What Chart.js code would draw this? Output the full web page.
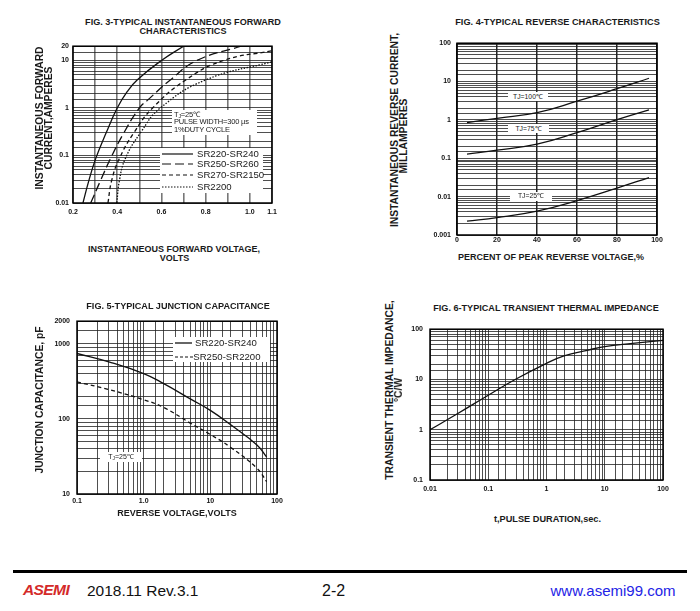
<!DOCTYPE html>
<html><head><meta charset="utf-8">
<script src="https://cdn.jsdelivr.net/npm/chart.js@4.4.0/dist/chart.umd.min.js"></script>
<style>
html,body{margin:0;padding:0;background:#fff;}
#page{position:relative;width:700px;height:611px;overflow:hidden;font-family:"Liberation Sans",Arial,sans-serif;color:#1a1a1a;}
.t{position:absolute;white-space:nowrap;transform:translate(-50%,-50%);line-height:1;}
.l{position:absolute;white-space:nowrap;transform:translate(0,-50%);line-height:1;}
.r{position:absolute;white-space:nowrap;transform:translate(-50%,-50%) rotate(-90deg);line-height:1;}
.b{font-weight:bold;}
canvas{position:absolute;}
.box{position:absolute;background:#fff;}
sub{font-size:70%;vertical-align:-1px;}
</style></head>
<body><div id="page"></div>
<script>
// ---------- DATA ----------
// Fig 3: forward characteristics (V, A)
const fig3Names = ['SR220-SR240','SR250-SR260','SR270-SR2150','SR2200'];
const fig3V1 = [0.245,0.272,0.303,0.35,0.40,0.445,0.49,0.60,0.70];
const fig3I1 = [0.01,0.03,0.087,0.3,1,2.2,3.9,10,20];
const fig3V2 = [0.28,0.325,0.37,0.43,0.50,0.54,0.64,0.76,0.96];
const fig3I2 = [0.01,0.03,0.087,0.3,1,1.5,3.9,10,20];
const fig3V3 = [0.358,0.375,0.41,0.475,0.56,0.71,0.88,1.1];
const fig3I3 = [0.01,0.03,0.087,0.3,1,3.9,10,16];
const fig3V4 = [0.398,0.41,0.437,0.505,0.595,0.80,1.1];
const fig3I4 = [0.01,0.03,0.087,0.3,1,3.9,9.4];
const fig3XLabels = ['0.2','0.4','0.6','0.8','1.0','1.1'];
const fig3YLabels = [0.01,0.1,1,10,20];

// Fig 4: reverse characteristics (% of PRV, mA)
const fig4Names = ['TJ=100℃','TJ=75℃','TJ=25℃'];
const fig4X = [5,20,40,60,80,96];
const fig4T100 = [0.85,1.1,1.54,3.07,6.5,12.2];
const fig4T75 = [0.129,0.163,0.233,0.465,1.02,1.84];
const fig4T25 = [0.0023,0.00284,0.0042,0.0079,0.0167,0.0313];
const fig4YLabels = [0.001,0.01,0.1,1,10,100];

// Fig 5: junction capacitance (V, pF)
const fig5Names = ['SR220-SR240','SR250-SR2200'];
const fig5X = [0.1,0.3,1,2,5,10,20,50,70];
const fig5A = [743,575,401,295,185,130,84,45,31];
const fig5B = [311,246,180,142,88,62,42,22,14.6];
const fig5XLabels = [0.1,1,10,100];
const fig5XText = ['0.1','1.0','10','100'];
const fig5YLabels = [10,100,1000,2000];

// Fig 6: transient thermal impedance (s, °C/W)
const fig6X = [0.01,0.03,0.1,0.3,1,2,5,10,30,100];
const fig6Y = [1,2.1,4.86,10.2,20.9,29.5,38,45,52,60];
const fig6XLabels = [0.01,0.1,1,10,100];
const fig6YLabels = [0.1,1,10,100];

// ---------- HELPERS ----------
const page = document.getElementById('page');
function txt(cls, x, y, size, html, extra) {
  const d = document.createElement('div');
  d.className = cls;
  d.style.left = x + 'px'; d.style.top = y + 'px'; d.style.fontSize = size + 'px';
  if (extra) Object.assign(d.style, extra);
  d.innerHTML = html;
  page.appendChild(d);
  return d;
}
function box(x, y, w, h) {
  const d = document.createElement('div');
  d.className = 'box';
  Object.assign(d.style, {left:x+'px', top:y+'px', width:w+'px', height:h+'px'});
  page.appendChild(d);
}
function sample(x1, x2, y, dash, width, color) {
  const ns = 'http://www.w3.org/2000/svg';
  const s = document.createElementNS(ns, 'svg');
  s.setAttribute('width', x2 - x1); s.setAttribute('height', 6);
  Object.assign(s.style, {position:'absolute', left:x1+'px', top:(y-3)+'px'});
  const ln = document.createElementNS(ns, 'line');
  ln.setAttribute('x1', 0); ln.setAttribute('x2', x2 - x1);
  ln.setAttribute('y1', 3); ln.setAttribute('y2', 3);
  ln.setAttribute('stroke', color || '#111');
  ln.setAttribute('stroke-width', width || 1.2);
  if (dash) ln.setAttribute('stroke-dasharray', dash);
  s.appendChild(ln);
  page.appendChild(s);
}
const pts = (xs, ys) => xs.map((x, i) => ({x, y: ys[i]}));
const near = (v, list) => list.find(t => Math.abs(v - t) <= t * 1e-6);
const fmt = v => (v < 1 ? String(+v.toPrecision(3)) : String(Math.round(v)));

const frame = {id:'frame', afterDraw(ch){
  const {ctx, chartArea:a} = ch;
  ctx.save(); ctx.strokeStyle = '#000'; ctx.lineWidth = 1.5;
  ctx.strokeRect(a.left, a.top, a.right - a.left, a.bottom - a.top);
  ctx.restore();
}};
const tickFont = {family:'Liberation Sans', size:7, weight:'bold'};

function makeChart(cfg) {
  const {l, t, w, h, yW, xH, padT, padR, xs, ys, datasets} = cfg;
  const c = document.createElement('canvas');
  const W = yW + w + padR, H = padT + h + xH;
  c.width = W; c.height = H;
  c.style.left = (l - yW) + 'px'; c.style.top = (t - padT) + 'px';
  c.style.width = W + 'px'; c.style.height = H + 'px';
  page.appendChild(c);
  xs.afterFit = s => { s.height = xH; };
  ys.afterFit = s => { s.width = yW; };
  new Chart(c, {
    type: 'line',
    data: {datasets},
    options: {
      responsive: false, animation: false, events: [],
      layout: {padding: {top: padT, right: padR, left: 0, bottom: 0}},
      plugins: {legend: {display: false}, tooltip: {enabled: false}, title: {display: false}},
      elements: {point: {radius: 0}},
      scales: {x: xs, y: ys}
    },
    plugins: [frame]
  });
}
function ds(label, data, dash, width) {
  return {label, data, borderColor: '#111', borderWidth: width || 1.3, borderDash: dash || [],
          fill: false, pointRadius: 0, tension: 0.45, cubicInterpolationMode: 'default'};
}
function logAxis(min, max, labels, texts, pad, gridColor, gridW) {
  return {type: 'logarithmic', min, max,
    border: {display: false},
    grid: {color: gridColor || '#222', lineWidth: gridW || 0.8, drawTicks: false},
    ticks: {autoSkip: false, padding: pad, font: tickFont, color: '#111', maxRotation: 0,
      callback: v => { const m = near(v, labels); if (m === undefined) return '';
        return texts ? texts[labels.indexOf(m)] : fmt(m); }}};
}

// ---------- FIG 3 ----------
makeChart({l:73, t:46, w:199, h:157, yW:30, xH:16, padT:8, padR:14,
  xs: {type:'linear', min:0.2, max:1.1, border:{display:false},
       grid:{color:'#777', lineWidth:1.6, drawTicks:false},
       ticks:{stepSize:0.1, autoSkip:false, padding:5, font:tickFont, color:'#111', maxRotation:0,
         callback: v => { const s = (Math.round(v*10)/10).toFixed(1); return fig3XLabels.includes(s) ? s : ''; }}},
  ys: logAxis(0.01, 20, fig3YLabels, null, 4, '#222', 0.8),
  datasets: [
    ds(fig3Names[0], pts(fig3V1, fig3I1), []),
    ds(fig3Names[1], pts(fig3V2, fig3I2), [9,4]),
    ds(fig3Names[2], pts(fig3V3, fig3I3), [4,3]),
    ds(fig3Names[3], pts(fig3V4, fig3I4), [1.5,1.5])
  ]});
txt('t b', 183, 22.7, 9.1, 'FIG. 3-TYPICAL INSTANTANEOUS FORWARD');
txt('t b', 183, 31.7, 9.1, 'CHARACTERISTICS');
txt('r b', 40, 117.5, 10.3, 'INSTANTANEOUS FORWARD');
txt('r b', 49, 117.5, 10.3, 'CURRENT,AMPERES');
txt('t b', 174, 249, 9, 'INSTANTANEOUS FORWARD VOLTAGE,');
txt('t b', 174.5, 258, 9, 'VOLTS');
box(172, 110, 85, 25);
txt('l', 174, 115, 7.5, 'T<sub>J</sub>=25℃', {letterSpacing:'-0.2px'});
txt('l', 174, 122.3, 7.5, 'PULSE WIDTH=300 µs', {letterSpacing:'-0.2px'});
txt('l', 174, 130, 7.5, '1%DUTY CYCLE', {letterSpacing:'-0.2px'});
box(160, 148, 103, 45);
const lg3y = [154.3, 164.3, 175, 186.7];
const lg3dash = [null, '9 4', '4 3', '1.5 1.5'];
fig3Names.forEach((n, i) => { sample(162, 193, lg3y[i], lg3dash[i], 1.2); txt('l', 197, lg3y[i], 9.6, n); });

// ---------- FIG 4 ----------
makeChart({l:457, t:41, w:200, h:194, yW:32, xH:14, padT:8, padR:14,
  xs: {type:'linear', min:0, max:100, border:{display:false},
       grid:{color:'#222', lineWidth:1.5, drawTicks:false},
       ticks:{stepSize:20, autoSkip:false, padding:1, font:tickFont, color:'#111', maxRotation:0}},
  ys: logAxis(0.001, 100, fig4YLabels, null, 6, '#222', 0.8),
  datasets: [
    ds(fig4Names[0], pts(fig4X, fig4T100)),
    ds(fig4Names[1], pts(fig4X, fig4T75)),
    ds(fig4Names[2], pts(fig4X, fig4T25))
  ]});
txt('t b', 557.5, 22.7, 9.2, 'FIG. 4-TYPICAL REVERSE CHARACTERISTICS');
txt('r b', 395, 130, 10.3, 'INSTANTANEOUS REVERSE CURRENT,');
txt('r b', 403.5, 136, 10.3, 'MILLAMPERES');
txt('t b', 551, 257, 9, 'PERCENT OF PEAK REVERSE VOLTAGE,%');
box(508, 92, 40, 9);   txt('t', 528, 96.5, 6.8, fig4Names[0]);
box(508, 124, 41, 9);  txt('t', 528.5, 128.5, 6.8, fig4Names[1]);
box(510, 192, 42, 8.5); txt('t', 531, 196.3, 6.8, fig4Names[2]);

// ---------- FIG 5 ----------
makeChart({l:77, t:318, w:200, h:176, yW:32, xH:14, padT:8, padR:14,
  xs: logAxis(0.1, 100, fig5XLabels, fig5XText, 2.5, '#222', 0.8),
  ys: logAxis(10, 2000, fig5YLabels, null, 7, '#222', 0.8),
  datasets: [
    ds(fig5Names[0], pts(fig5X, fig5A)),
    ds(fig5Names[1], pts(fig5X, fig5B), [4,3])
  ]});
txt('t b', 178, 307.3, 9.1, 'FIG. 5-TYPICAL JUNCTION CAPACITANCE');
txt('r b', 40, 399.5, 10.3, 'JUNCTION CAPACITANCE, pF');
txt('t b', 177, 512.7, 9, 'REVERSE VOLTAGE,VOLTS');
box(173, 337, 97, 25);
sample(175, 192, 343.3, null, 1.8, '#555');
txt('l', 195, 343.3, 9.6, fig5Names[0]);
sample(175, 193, 356.7, '3 2', 1.1);
txt('l', 193.3, 356.7, 9.6, fig5Names[1]);
box(100, 452, 42, 10);
txt('t', 121, 457, 7, 'T<sub>J</sub>=25℃');

// ---------- FIG 6 ----------
makeChart({l:430, t:326, w:233, h:154, yW:30, xH:16, padT:8, padR:14,
  xs: logAxis(0.01, 100, fig6XLabels, null, 5, '#222', 0.8),
  ys: logAxis(0.1, 100, fig6YLabels, null, 7, '#222', 0.8),
  datasets: [ ds('Zth', pts(fig6X, fig6Y)) ]});
txt('t b', 546, 309.3, 9.1, 'FIG. 6-TYPICAL TRANSIENT THERMAL IMPEDANCE');
txt('r b', 390, 389.5, 10.3, 'TRANSIENT THERMAL IMPEDANCE,');
txt('r b', 398.5, 389.5, 10.3, '°C/W');
txt('t b', 547.5, 520, 9.2, 't,PULSE DURATION,sec.');

// ---------- FOOTER ----------
const rule = document.createElement('div');
Object.assign(rule.style, {position:'absolute', left:'13px', top:'569.5px', width:'674px', height:'3px', background:'#000'});
page.appendChild(rule);
txt('l', 23, 590, 15.5, 'ASEMI', {fontWeight:'bold', fontStyle:'italic', color:'#d42a2a', letterSpacing:'-0.6px'});
txt('l', 87, 591, 15.5, '2018.11 Rev.3.1', {color:'#111'});
txt('l', 322, 591, 16, '2-2', {color:'#111'});
txt('l', 550.5, 590, 15, 'www.asemi99.com', {color:'#2323e6'});
</script>
</body></html>
